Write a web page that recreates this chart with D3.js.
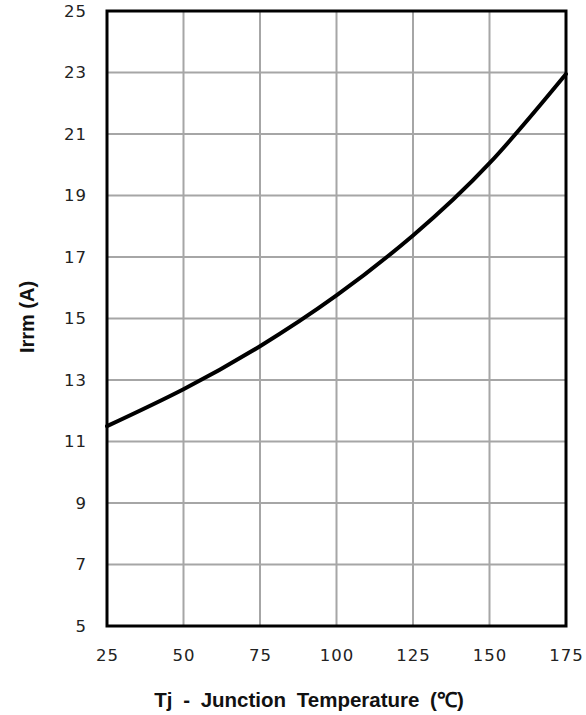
<!DOCTYPE html>
<html>
<head>
<meta charset="utf-8">
<script src="https://cdn.jsdelivr.net/npm/d3@7"></script>
<style>
  body { margin: 0; background: #fff; }
  svg { display: block; }
</style>
</head>
<body>
<svg width="586" height="715"></svg>
<script>
// Irrm vs junction temperature
var temps = [25, 50, 75, 100, 125, 150, 175];
var irrm  = [11.5, 12.7, 14.1, 15.75, 17.7, 20.05, 22.95];
var xTicks = [25, 50, 75, 100, 125, 150, 175];
var yTicks = [5, 7, 9, 11, 13, 15, 17, 19, 21, 23, 25];

var svg = d3.select("svg"),
    margin = {top: 11, right: 20, bottom: 89, left: 107},
    width = +svg.attr("width") - margin.left - margin.right,
    height = +svg.attr("height") - margin.top - margin.bottom,
    g = svg.append("g").attr("transform", "translate(" + margin.left + "," + margin.top + ")");

var x = d3.scaleLinear().domain([25, 175]).range([0, width]);
var y = d3.scaleLinear().domain([5, 25]).range([height, 0]);

// grid
g.append("g")
    .selectAll("line")
    .data(xTicks)
    .enter().append("line")
    .attr("x1", function(d) { return x(d); })
    .attr("x2", function(d) { return x(d); })
    .attr("y1", 0)
    .attr("y2", height)
    .style("stroke", "#a6a6a6")
    .style("stroke-width", 2);

g.append("g")
    .selectAll("line")
    .data(yTicks)
    .enter().append("line")
    .attr("x1", 0)
    .attr("x2", width)
    .attr("y1", function(d) { return y(d); })
    .attr("y2", function(d) { return y(d); })
    .style("stroke", "#a6a6a6")
    .style("stroke-width", 2);

// axes (labels only, frame drawn separately)
var xAxis = g.append("g")
    .attr("transform", "translate(0," + height + ")")
    .call(d3.axisBottom(x).tickValues(xTicks).tickSize(0).tickPadding(23));
var yAxis = g.append("g")
    .call(d3.axisLeft(y).tickValues(yTicks).tickSize(0).tickPadding(20));

[xAxis, yAxis].forEach(function(a) {
    a.select(".domain").remove();
    a.selectAll("text")
        .style("font-family", "DejaVu Sans, Verdana, sans-serif")
        .style("font-size", "16.5px")
        .style("letter-spacing", "1px")
        .style("fill", "#222");
});

// frame
g.append("rect")
    .attr("x", 0)
    .attr("y", 0)
    .attr("width", width)
    .attr("height", height)
    .style("fill", "none")
    .style("stroke", "#000")
    .style("stroke-width", 3);

// curve
var line = d3.line()
    .x(function(d, i) { return x(temps[i]); })
    .y(function(d) { return y(d); })
    .curve(d3.curveNatural);

g.append("path")
    .datum(irrm)
    .attr("d", line)
    .style("fill", "none")
    .style("stroke", "#000")
    .style("stroke-width", 4)
    .style("stroke-linecap", "round");

// titles
svg.append("text")
    .attr("x", 309)
    .attr("y", 707)
    .attr("text-anchor", "middle")
    .style("font-family", "Liberation Sans, Arial, sans-serif")
    .style("font-weight", "bold")
    .style("font-size", "20.5px")
    .style("word-spacing", "5px")
    .style("fill", "#111")
    .text("Tj - Junction Temperature (℃)");

svg.append("text")
    .attr("transform", "translate(34,317) rotate(-90)")
    .attr("text-anchor", "middle")
    .style("font-family", "Liberation Sans, Arial, sans-serif")
    .style("font-weight", "bold")
    .style("font-size", "20px")
    .style("fill", "#111")
    .text("Irrm (A)");
</script>
</body>
</html>
